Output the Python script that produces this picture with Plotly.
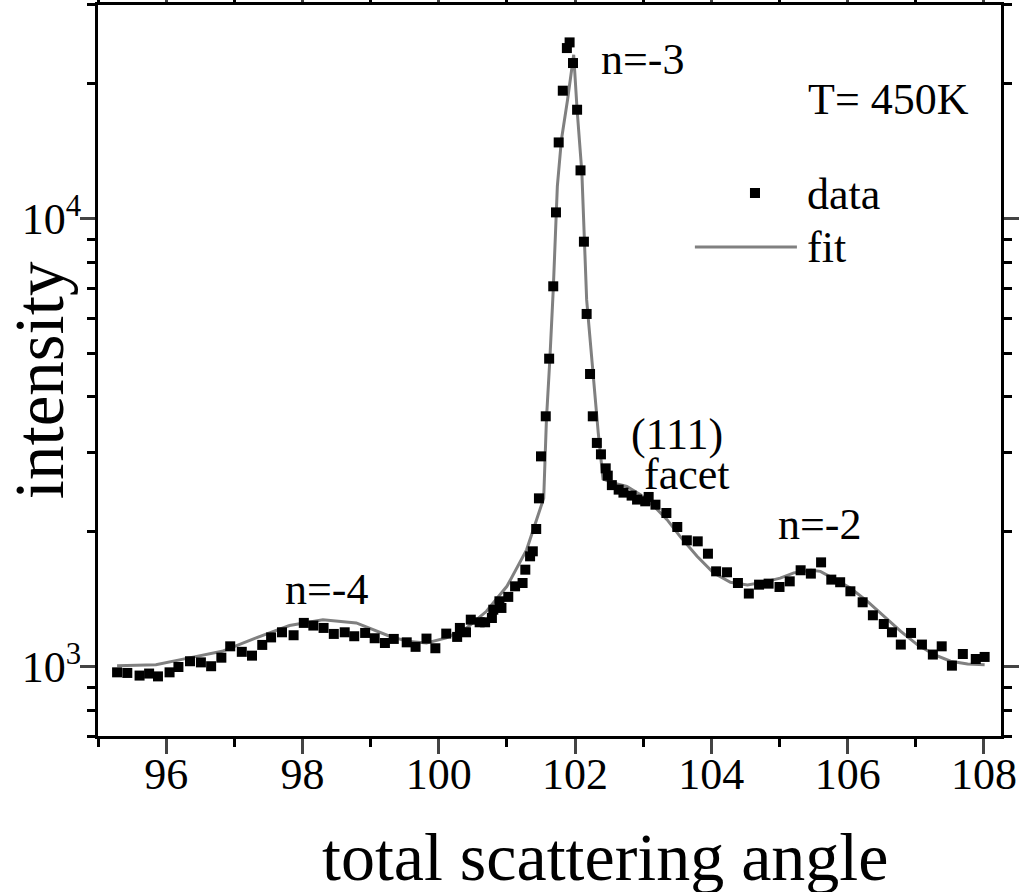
import plotly.graph_objects as go

# measured data (angle in degrees, intensity)
data_x = [95.28, 95.43, 95.61, 95.75, 95.88, 96.05, 96.18, 96.35, 96.51, 96.66,
          96.81, 96.94, 97.11, 97.26, 97.41, 97.54, 97.70, 97.87, 98.02, 98.16,
          98.31, 98.46, 98.62, 98.76, 98.92, 99.06, 99.21, 99.34, 99.53, 99.66,
          99.82, 99.95, 100.11, 100.27, 100.31, 100.40, 100.47, 100.60, 100.68, 100.78,
          100.80, 100.89, 100.92, 101.02, 101.12, 101.23, 101.27, 101.34, 101.38, 101.43,
          101.47, 101.50, 101.57, 101.62, 101.68, 101.72, 101.76, 101.82, 101.88, 101.92,
          101.97, 102.03, 102.08, 102.13, 102.17, 102.22, 102.26, 102.32, 102.38, 102.45,
          102.48, 102.54, 102.64, 102.71, 102.83, 102.91, 103.03, 103.08, 103.18, 103.34,
          103.50, 103.64, 103.80, 103.95, 104.07, 104.23, 104.39, 104.55, 104.70, 104.84,
          105.00, 105.15, 105.31, 105.46, 105.61, 105.76, 105.89, 106.04, 106.22, 106.37,
          106.53, 106.65, 106.78, 106.93, 107.09, 107.25, 107.38, 107.53, 107.69, 107.88,
          108.01]
data_y = [971, 968, 955, 965, 951, 971, 998, 1028, 1022, 1002,
          1047, 1110, 1079, 1058, 1118, 1162, 1193, 1175, 1252, 1235,
          1220, 1183, 1193, 1169, 1189, 1157, 1129, 1153, 1133, 1107,
          1155, 1099, 1185, 1165, 1220, 1193, 1273, 1256, 1256, 1284,
          1340, 1399, 1352, 1431, 1511, 1537, 1646, 1763, 1809, 2029,
          2375, 2947, 3621, 4870, 7064, 10330, 14800, 19310, 24040, 24750,
          22260, 17510, 12820, 8886, 6128, 4501, 3621, 3158, 2978, 2771,
          2669, 2542, 2484, 2446, 2409, 2360, 2339, 2392, 2299, 2203,
          2050, 1914, 1904, 1787, 1632, 1624, 1537, 1456, 1524, 1532,
          1506, 1550, 1641, 1613, 1709, 1564, 1543, 1473, 1392, 1302,
          1245, 1193, 1120, 1189, 1120, 1064, 1110, 1005, 1067, 1040,
          1051]

fit_x = [95.28, 95.85, 96.34, 96.82, 97.32, 97.81, 98.30, 98.79, 99.28, 99.53,
         99.82, 100.11, 100.41, 100.70, 101.00, 101.29, 101.54, 101.58, 101.63, 101.68,
         101.74, 101.80, 101.89, 101.98, 102.03, 102.10, 102.17, 102.27, 102.34, 102.41,
         102.56, 102.76, 102.96, 103.15, 103.35, 103.54, 103.79, 104.03, 104.28, 104.53,
         104.77, 105.01, 105.21, 105.46, 105.60, 105.80, 106.04, 106.29, 106.53, 106.78,
         107.02, 107.27, 107.51, 107.76, 108.01]
fit_y = [1005, 1010, 1046, 1082, 1159, 1235, 1273, 1252, 1169, 1140,
         1129, 1159, 1220, 1329, 1511, 1825, 2377, 3560, 4845, 6944,
         11810, 15010, 18440, 23230, 17510, 12670, 6596, 4371, 3330, 2624,
         2570, 2526, 2421, 2288, 2129, 1953, 1763, 1619, 1543, 1522,
         1544, 1576, 1619, 1641, 1632, 1570, 1498, 1399, 1295, 1199,
         1120, 1064, 1028, 1014, 1010]

x_major = [96, 98, 100, 102, 104, 106, 108]
y_major = [1000, 10000]
y_major_text = ["10<sup>3</sup>", "10<sup>4</sup>"]
y_minor = [700, 800, 900, 2000, 3000, 4000, 5000, 6000, 7000, 8000, 9000, 20000, 30000]

FONT = "Liberation Serif"

fig = go.Figure()
fig.add_trace(go.Scatter(x=fit_x, y=fit_y, mode="lines",
                         line=dict(color="#808080", width=3), name="fit",
                         showlegend=False))
fig.add_trace(go.Scatter(x=data_x, y=data_y, mode="markers",
                         marker=dict(symbol="square", size=10, color="black"),
                         name="data", showlegend=False))

fig.update_layout(
    width=1026, height=892,
    margin=dict(l=98, r=25, t=5, b=156),
    paper_bgcolor="white", plot_bgcolor="white",
    font=dict(family=FONT, size=44, color="black"),
)
fig.update_xaxes(
    range=[95.0, 108.25], tickvals=x_major, ticks="outside", ticklen=15, tickwidth=3,
    showline=True, linewidth=3, linecolor="black", mirror="allticks", automargin=False,
    showgrid=False, zeroline=False, tickfont=dict(size=44, family=FONT),
    ticklabelstandoff=-18,
    minor=dict(dtick=1, tick0=95, ticks="outside", ticklen=8, tickwidth=3, tickcolor="black"),
)
fig.update_yaxes(
    type="log", range=[2.8451, 4.4771], tickvals=y_major, ticktext=y_major_text,
    ticks="outside", ticklen=15, tickwidth=3, automargin=False,
    showline=True, linewidth=3, linecolor="black", mirror="allticks",
    showgrid=False, zeroline=False, tickfont=dict(size=44, family=FONT),
    ticklabelstandoff=-10,
    minor=dict(tickvals=y_minor, ticks="outside", ticklen=8, tickwidth=3, tickcolor="black"),
)

def ann(text, x, y, xanchor="center", size=44):
    fig.add_annotation(text=text, x=x, y=y, xref="x", yref="y", showarrow=False,
                       xanchor=xanchor, yanchor="middle",
                       font=dict(family=FONT, size=size, color="black"))

ann("n=-3", 102.99, 4.355)
ann("T= 450K", 106.6, 4.266)
ann("data", 105.38, 4.054, xanchor="left")
ann("fit", 105.38, 3.935, xanchor="left")
ann("(111)", 103.49, 3.518)
ann("facet", 103.63, 3.429)
ann("n=-2", 105.59, 3.317)
ann("n=-4", 98.35, 3.172)

# axis titles
fig.add_annotation(text="total scattering angle", x=0.5615, y=-0.165, xref="paper", yref="paper",
                   showarrow=False, xanchor="center", yanchor="middle",
                   font=dict(family=FONT, size=68, color="black"))
fig.add_annotation(text="intensity", x=-0.064, y=0.487, xref="paper", yref="paper",
                   showarrow=False, xanchor="center", yanchor="middle", textangle=-90,
                   font=dict(family=FONT, size=69, color="black"))

# legend symbols
fig.add_shape(type="rect", xref="paper", yref="paper", x0=0.7220, x1=0.7331, y0=0.7360, y1=0.7497,
              fillcolor="black", line=dict(width=0))
fig.add_shape(type="line", xref="paper", yref="paper", x0=0.661, x1=0.774, y0=0.669, y1=0.669,
              line=dict(color="#808080", width=3))

fig.write_html("out.html")
